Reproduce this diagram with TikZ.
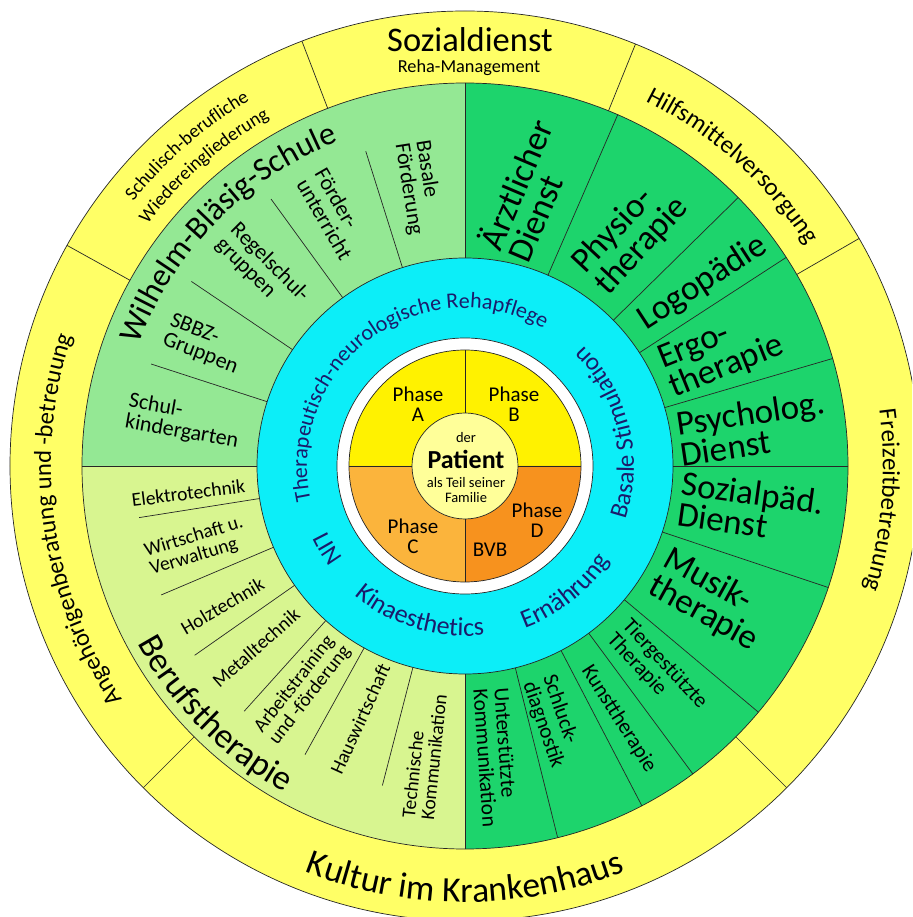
\documentclass[tikz,border=0pt]{standalone}
\usepackage{fontspec}
\setmainfont{Carlito}
\usepackage{tikz}
\usetikzlibrary{decorations.text}
\definecolor{ringyellow}{HTML}{FFFF66}
\definecolor{schoolgreen}{HTML}{94E894}
\definecolor{jobgreen}{HTML}{D8F590}
\definecolor{therapygreen}{HTML}{1DD46C}
\definecolor{careblue}{HTML}{0CEEF8}
\definecolor{careink}{HTML}{1B1B6B}
\definecolor{phaseyellow}{HTML}{FFF200}
\definecolor{phaselight}{HTML}{FBB43C}
\definecolor{phasedark}{HTML}{F7921E}
\definecolor{patientyellow}{HTML}{FFFF99}
\newcommand{\fsz}[1]{\fontsize{#1}{#1}\selectfont}

\begin{document}
\begin{tikzpicture}[x=1pt, y=1pt,
    edge/.style={draw=black!85, line width=0.7pt},
    bigtext/.style={font=\fontsize{35}{31}\selectfont, align=left},
    schooltext/.style={font=\fontsize{22}{21}\selectfont, align=left},
    jobtext/.style={font=\fontsize{19.5}{19}\selectfont, align=left},
    therapytext/.style={font=\fontsize{21.5}{21}\selectfont, align=left},
    phasetext/.style={font=\fontsize{21}{20}\selectfont, align=center}]
    \useasboundingbox (-465,-451) rectangle (447,466);
    \clip (-465,-451) rectangle (447,466);

    % Rings and sectors
    \fill[ringyellow] (0,0) circle[radius=455];
    \fill[schoolgreen] (0,0) -- (90:383) arc[start angle=90, end angle=180, radius=383] -- cycle;
    \fill[jobgreen] (0,0) -- (180:383) arc[start angle=180, end angle=270, radius=383] -- cycle;
    \fill[therapygreen] (0,0) -- (-90:383) arc[start angle=-90, end angle=90, radius=383] -- cycle;
    \fill[careblue] (0,0) circle[radius=208];
    \fill[white] (0,0) circle[radius=128];
    \fill[phaseyellow] (0,0) -- (0:116) arc[start angle=0, end angle=180, radius=116] -- cycle;
    \fill[phaselight] (0,0) -- (180:116) arc[start angle=180, end angle=270, radius=116] -- cycle;
    \fill[phasedark] (0,0) -- (270:116) arc[start angle=270, end angle=360, radius=116] -- cycle;
    \fill[patientyellow] (0,0) circle[radius=53];
    \foreach \r in {455,383,208,128,116,53}
        \draw[edge] (0,0) circle[radius=\r];

    % Dividers
    \foreach \a in {30,68,111,151,225,315}
        \draw[edge] (\a:383) -- (\a:455);
    \foreach \a in {90,180,270,66.5,44.5,33,16.3,0,-18.5,-40,-53.5,-62.5,-76}
        \draw[edge] (\a:208) -- (\a:383);
    \foreach \a in {107.5,126,146,162,189,203,215,228,241,255.5}
        \draw[edge] (\a:208) -- (\a:330);
    \foreach \a in {0,90,180,270}
        \draw[edge] (\a:53) -- (\a:116);

    % Outer ring
    \node[font=\fsz{34.5}] (sozial) at (5,426) {Sozialdienst};
    \node[font=\fsz{18.3}] (reha) at (4,398) {Reha-Management};
    \path[decorate, decoration={text along path, text align=center,
        text={|\fsz{25}|Hilfsmittelversorgung}}]
        (83.3:407) arc[start angle=83.3, end angle=13.3, radius=407];
    \path[decorate, decoration={text along path, text align=center,
        text={|\fsz{25}|Freizeitbetreuung}}]
        (35.3:418) arc[start angle=35.3, end angle=-44.7, radius=418];
    \path[decorate, decoration={text along path, text align=center,
        text={|\fsz{35.5}|Kultur im Krankenhaus}}]
        (230:436) arc[start angle=230, end angle=310, radius=436];
    \path[decorate, decoration={text along path, text align=center,
        text={|\fsz{24.5}|Angehörigenberatung und -betreuung}}]
        (228:414) arc[start angle=228, end angle=148, radius=414];
    \path[decorate, decoration={text along path, text align=center,
        text={|\fsz{19}|Schulisch-berufliche}}]
        (161:424) arc[start angle=161, end angle=101, radius=424];
    \path[decorate, decoration={text along path, text align=center,
        text={|\fsz{19}|Wiedereingliederung}}]
        (161:399) arc[start angle=161, end angle=101, radius=399];

    % School sector
    \path[decorate, decoration={text along path, text align=center,
        text={|\fsz{32.5}|Wilhelm-Bläsig-Schule}}]
        (175.5:348) arc[start angle=175.5, end angle=95.5, radius=348];
    \node[schooltext, rotate=-81] (basal) at (99.4:282) {Basale\\Förderung};
    \node[schooltext, rotate=-60] (foerder) at (117.5:284) {Förder-\\unterricht};
    \node[schooltext, rotate=-45] (regel) at (136:282) {Regelschul-\\gruppen};
    \node[schooltext, rotate=-21] (sbbz) at (155:288) {SBBZ-\\Gruppen};
    \node[schooltext, rotate=-10] (kiga) at (171:285) {Schul-\\kindergarten};

    % Vocational sector
    \path[decorate, decoration={text along path, text align=center,
        text={|\fsz{35}|Berufstherapie}}]
        (194.75:373) arc[start angle=194.75, end angle=254.75, radius=373];
    \node[jobtext, rotate=7] (elektro) at (185.6:278) {Elektrotechnik};
    \node[jobtext, rotate=17] (wirtschaft) at (196.6:280) {Wirtschaft u.\\Verwaltung};
    \node[jobtext, rotate=30.5] (holz) at (210:280) {Holztechnik};
    \node[jobtext, rotate=41.5] (metall) at (221:277) {Metalltechnik};
    \node[jobtext, rotate=52] (arbeit) at (234:276) {Arbeitstraining\\und -förderung};
    \node[jobtext, rotate=65.5] (haus) at (247.5:274) {Hauswirtschaft};
    \node[jobtext, rotate=84] (technik) at (262:293) {Technische\\Kommunikation};

    % Therapy sector
    \node[bigtext, rotate=67] (arzt) at (77:283) {Ärztlicher\\Dienst};
    \node[bigtext, rotate=47] (physio) at (54.3:284) {Physio-\\therapie};
    \node[bigtext, rotate=33] (logo) at (37.6:300) {Logopädie};
    \node[bigtext, rotate=22] (ergo) at (23.8:280) {Ergo-\\therapie};
    \node[bigtext, rotate=8.5] (psych) at (7.5:290) {Psycholog.\\Dienst};
    \node[bigtext, rotate=-8] (sozpaed) at (-8.4:289) {Sozialpäd.\\Dienst};
    \node[bigtext, rotate=-29] (musik) at (-28.6:280) {Musik-\\therapie};
    \node[therapytext, rotate=-47] (tier) at (-46.9:281) {Tiergestützte\\Therapie};
    \node[therapytext, rotate=-57.5] (kunst) at (-58.7:296) {Kunsttherapie};
    \node[therapytext, rotate=-71] (schluck) at (-71:270) {Schluck-\\diagnostik};
    \node[therapytext, rotate=-86] (uk) at (-84:293) {Unterstützte\\Kommunikation};

    % Care ring
    \path[decorate, decoration={text along path, text align=center,
        text={|\fsz{22}\color{careink}|Therapeutisch-neurologische Rehapflege}}]
        (216.35:158) arc[start angle=216.35, end angle=36.35, radius=158];
    \path[decorate, decoration={text along path, text align=center,
        text={|\fsz{25}\color{careink}|Basale Stimulation}}]
        (-66.55:169) arc[start angle=-66.55, end angle=93.45, radius=169];
    \path[decorate, decoration={text along path, text align=center,
        text={|\fsz{26}\color{careink}|Ernährung}}]
        (-91.5:173) arc[start angle=-91.5, end angle=-11.5, radius=173];
    \path[decorate, decoration={text along path, text align=center,
        text={|\fsz{26}\color{careink}|Kinaesthetics}}]
        (213:170) arc[start angle=213, end angle=293, radius=170];
    \path[decorate, decoration={text along path, text align=center,
        text={|\fsz{25}\color{careink}|LIN}}]
        (191:169) arc[start angle=191, end angle=231, radius=169];

    % Phases
    \node[phasetext] (phaseA) at (-47,62) {Phase\\A};
    \node[phasetext] (phaseB) at (49,62) {Phase\\B};
    \node[phasetext] (phaseC) at (-52,-70) {Phase\\C};
    \node[phasetext] (phaseD) at (72,-54) {Phase\\D};
    \node[font=\fsz{21}] (bvb) at (25,-84) {BVB};

    % Patient
    \node[font=\fsz{14.5}] (der) at (1,28) {der};
    \node[font=\fsz{26}\bfseries] (patient) at (1,7) {Patient};
    \node[font=\fsz{14.5}] (teil) at (1,-17) {als Teil seiner};
    \node[font=\fsz{14.5}] (familie) at (1,-32) {Familie};
\end{tikzpicture}
\end{document}
